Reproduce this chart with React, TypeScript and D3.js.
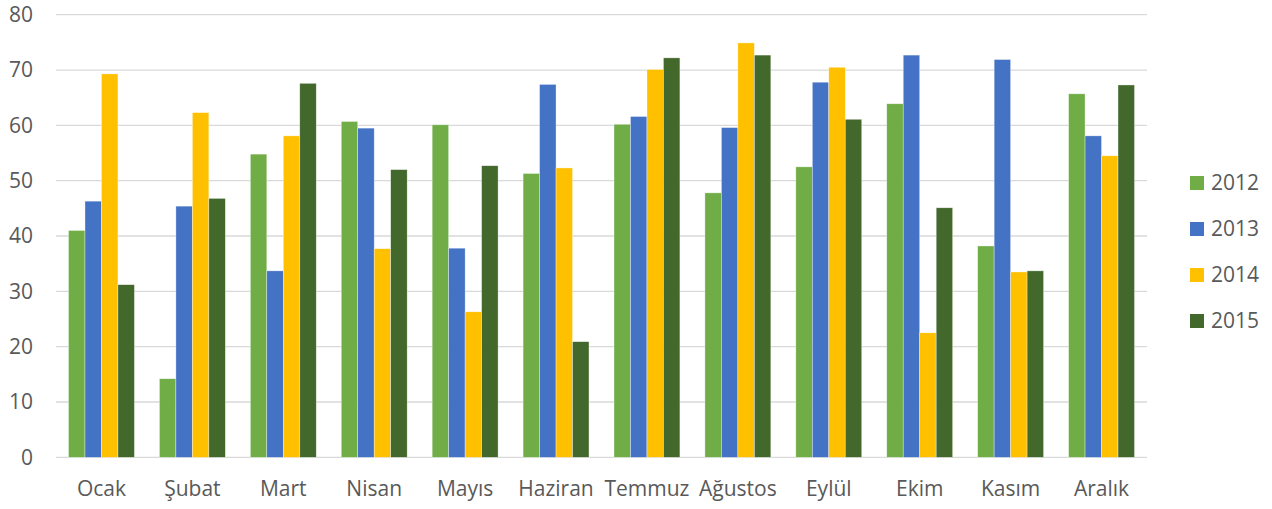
import { useEffect } from 'react';
import * as d3 from 'd3';

const months = ['Ocak', 'Şubat', 'Mart', 'Nisan', 'Mayıs', 'Haziran', 'Temmuz', 'Ağustos', 'Eylül', 'Ekim', 'Kasım', 'Aralık'];
const years = ['2012', '2013', '2014', '2015'];

const values2012 = [41.0, 14.2, 54.8, 60.7, 60.1, 51.3, 60.2, 47.8, 52.5, 63.9, 38.2, 65.7];
const values2013 = [46.3, 45.4, 33.7, 59.5, 37.8, 67.4, 61.6, 59.6, 67.8, 72.7, 71.9, 58.1];
const values2014 = [69.3, 62.3, 58.1, 37.7, 26.3, 52.3, 70.1, 74.9, 70.5, 22.5, 33.5, 54.5];
const values2015 = [31.2, 46.8, 67.6, 52.0, 52.7, 20.9, 72.2, 72.7, 61.1, 45.1, 33.7, 67.3];

const yTicks = [0, 10, 20, 30, 40, 50, 60, 70, 80];
const colors = ['#70AD47', '#4472C4', '#FFC000', '#43682B'];

const width = 1272;
const height = 509;
const plot = { left: 56, right: 1147, top: 14.7, bottom: 457.3 };
const font = "'Open Sans', sans-serif";
const textColor = '#595959';
const fontSize = 21;

export default function App() {
  useEffect(() => {
    document.body.style.margin = '0';
  }, []);

  const series = [values2012, values2013, values2014, values2015];

  const x = d3
    .scaleBand<string>()
    .domain(months)
    .range([plot.left, plot.right])
    .paddingInner(0.275)
    .paddingOuter(0.1375);

  const xInner = d3.scaleBand<string>().domain(years).range([0, x.bandwidth()]);

  const y = d3.scaleLinear().domain([0, 80]).range([plot.bottom, plot.top]);

  return (
    <svg width={width} height={height} style={{ display: 'block', background: '#fff' }}>
      {yTicks.map((t) => (
        <g key={t}>
          <line x1={plot.left} x2={plot.right} y1={y(t)} y2={y(t)} stroke="#d9d9d9" strokeWidth={1.3} />
          <text
            x={33}
            y={y(t)}
            dy="0.35em"
            textAnchor="end"
            fontFamily={font}
            fontSize={fontSize}
            fill={textColor}
          >
            {t}
          </text>
        </g>
      ))}

      {months.map((m, i) => (
        <g key={m} transform={`translate(${x(m)},0)`}>
          {series.map((vals, s) => (
            <rect
              key={years[s]}
              x={xInner(years[s])}
              y={y(vals[i])}
              width={xInner.bandwidth()}
              height={y(0) - y(vals[i])}
              fill={colors[s]}
              stroke="#ffffff"
              strokeOpacity={0.6}
              strokeWidth={0.6}
            />
          ))}
        </g>
      ))}

      {months.map((m) => (
        <text
          key={m}
          x={(x(m) ?? 0) + x.bandwidth() / 2}
          y={496}
          textAnchor="middle"
          fontFamily={font}
          fontSize={fontSize}
          fill={textColor}
        >
          {m}
        </text>
      ))}

      {years.map((yr, i) => (
        <g key={yr} transform={`translate(1190,${183 + i * 46})`}>
          <rect x={0} y={-7} width={14} height={14} fill={colors[i]} />
          <text x={21} y={0} dy="0.35em" fontFamily={font} fontSize={fontSize} fill={textColor}>
            {yr}
          </text>
        </g>
      ))}
    </svg>
  );
}
